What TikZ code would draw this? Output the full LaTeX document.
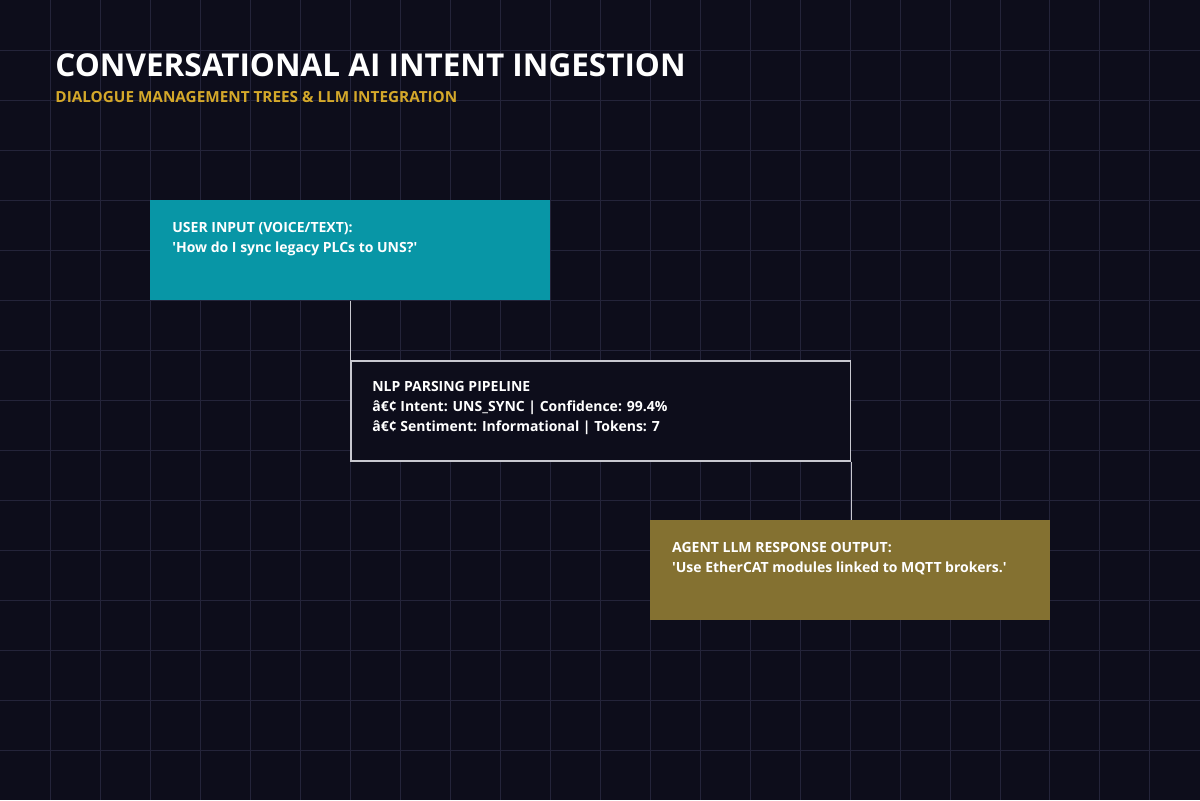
\documentclass[tikz,border=0pt]{standalone}
\usepackage{fontspec}
\setmainfont{Open Sans}
\definecolor{bgnavy}{HTML}{0D0D1B}
\definecolor{gridc}{HTML}{24243A}
\definecolor{teal}{HTML}{0896A6}
\definecolor{gold}{HTML}{847131}
\definecolor{subgold}{HTML}{D4A82A}
\definecolor{edgec}{HTML}{C8C8D0}
\newcommand{\sq}{\textquotesingle}
\begin{document}
\begin{tikzpicture}[
        x=1pt, y=-1pt,
        box/.style={minimum height=100pt, anchor=north west, inner sep=0pt},
        boxtext/.style={anchor=north west, text=white, align=left, inner sep=0pt,
            font=\bfseries\fontsize{14}{20}\selectfont},
        link/.style={draw=edgec, line width=1.5pt},
    ]
    % background and grid
    \fill[bgnavy] (0,0) rectangle (1200,800);
    \foreach \i in {50,100,...,1150} {
        \draw[gridc, line width=0.6pt] (\i,0) -- (\i,800);
    }
    \foreach \j in {50,100,...,750} {
        \draw[gridc, line width=0.6pt] (0,\j) -- (1200,\j);
    }
    % titles
    \node[anchor=west, text=white, font=\bfseries\fontsize{31.5}{36}\selectfont, inner sep=0pt] (title) at (55,65) {CONVERSATIONAL AI INTENT INGESTION};
    \node[anchor=west, text=subgold, font=\bfseries\fontsize{15.3}{18}\selectfont, inner sep=0pt] (subtitle) at (55,97) {DIALOGUE MANAGEMENT TREES \& LLM INTEGRATION};
    % boxes
    \node[box, fill=teal, minimum width=400pt] (user) at (150,200) {};
    \node[boxtext] (usertxt) at (172,222) {USER INPUT (VOICE/TEXT):\\\sq How do I sync legacy PLCs to UNS?\sq};
    \node[box, fill=bgnavy, draw=edgec, line width=1.5pt, minimum width=500pt] (nlp) at (350,360) {};
    \node[boxtext] (nlptxt) at (372,381) {NLP PARSING PIPELINE\\â€¢ Intent: UNS\_SYNC | Confidence: 99.4\%\\â€¢ Sentiment: Informational | Tokens: 7};
    \node[box, fill=gold, minimum width=400pt] (agent) at (650,520) {};
    \node[boxtext] (agenttxt) at (672,542) {AGENT LLM RESPONSE OUTPUT:\\\sq Use EtherCAT modules linked to MQTT brokers.\sq};
    % connectors
    \draw[link] (user.south) -- (user.south |- nlp.north);
    \draw[link] (nlp.south east) -- (nlp.south east |- agent.north);
\end{tikzpicture}
\end{document}
